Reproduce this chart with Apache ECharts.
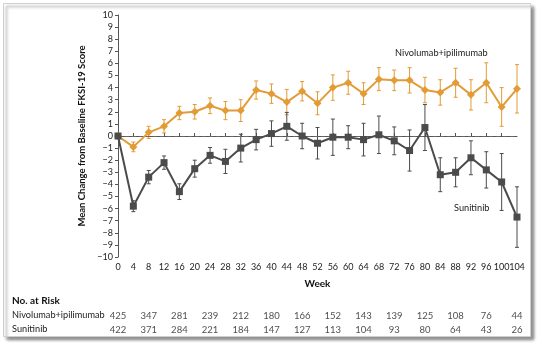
<!DOCTYPE html>
<html>
<head>
<meta charset="utf-8">
<script src="https://cdn.jsdelivr.net/npm/echarts@6/dist/echarts.min.js"></script>
<style>
  html, body { margin: 0; padding: 0; background: #fff; }
  #chart { width: 542px; height: 346px; }
</style>
</head>
<body>
<div id="chart"></div>
<script>
// Mean change from baseline in FKSI-19 score by study week
const weeks = [0, 4, 8, 12, 16, 20, 24, 28, 32, 36, 40, 44, 48, 52, 56, 60, 64, 68, 72, 76, 80, 84, 88, 92, 96, 100, 104];
const lastWeek = 104;

const nivoMean = [0, -0.9, 0.3, 0.8, 1.9, 2.0, 2.5, 2.1, 2.1, 3.8, 3.5, 2.8, 3.7, 2.7, 4.0, 4.4, 3.5, 4.7, 4.6, 4.6, 3.8, 3.6, 4.4, 3.4, 4.4, 2.4, 3.9];
const nivoErr  = [0, 0.4, 0.5, 0.55, 0.55, 0.6, 0.65, 0.75, 0.9, 0.75, 0.8, 1.05, 0.8, 0.95, 1.05, 0.95, 0.9, 0.95, 0.85, 1.05, 1.05, 1.05, 1.2, 1.25, 1.65, 1.6, 2.0];

const suniMean = [0, -5.8, -3.4, -2.2, -4.6, -2.7, -1.6, -2.1, -1.0, -0.3, 0.2, 0.8, 0.0, -0.6, -0.1, -0.1, -0.3, 0.1, -0.4, -1.2, 0.7, -3.2, -3.0, -1.8, -2.8, -3.8, -6.7];
const suniErr  = [0, 0.45, 0.55, 0.55, 0.65, 0.7, 0.65, 1.0, 1.15, 0.85, 1.05, 1.15, 1.05, 1.3, 1.5, 0.95, 1.35, 1.55, 1.15, 1.7, 1.9, 1.4, 1.2, 1.4, 1.5, 2.35, 2.5];

// Number of patients at risk, every 8 weeks
const riskWeeks = [0, 8, 16, 24, 32, 40, 48, 56, 64, 72, 80, 88, 96, 104];
const riskNivo = [425, 347, 281, 239, 212, 180, 166, 152, 143, 139, 125, 108, 76, 44];
const riskSuni = [422, 371, 284, 221, 184, 147, 127, 113, 104, 93, 80, 64, 43, 26];
const riskGroups = ['Nivolumab+ipilimumab', 'Sunitinib'];

const ORANGE = '#E39B35';
const GRAY = '#4B4B4B';
const FONT = 'Lato';

function errorData(mean, err) {
  return weeks.map((w, i) => [w, mean[i] - err[i], mean[i] + err[i]]).filter((d, i) => err[i] > 0);
}

function errorBars(color) {
  return function (params, api) {
    const x = api.value(0);
    const lo = api.coord([x, api.value(1)]);
    const hi = api.coord([x, api.value(2)]);
    const cap = 2;
    const style = { stroke: color, lineWidth: 1 };
    return {
      type: 'group',
      children: [
        { type: 'line', shape: { x1: lo[0], y1: lo[1], x2: hi[0], y2: hi[1] }, style },
        { type: 'line', shape: { x1: lo[0] - cap, y1: lo[1], x2: lo[0] + cap, y2: lo[1] }, style },
        { type: 'line', shape: { x1: hi[0] - cap, y1: hi[1], x2: hi[0] + cap, y2: hi[1] }, style }
      ]
    };
  };
}

const riskData = [];
riskWeeks.forEach((w, i) => {
  riskData.push([w, 0, riskNivo[i]]);
  riskData.push([w, 1, riskSuni[i]]);
});

const tickLabel = { fontFamily: FONT, fontSize: 9, color: '#222', margin: 6 };

const chart = echarts.init(document.getElementById('chart'), null, { renderer: 'canvas' });

chart.setOption({
  animation: false,
  backgroundColor: '#fff',
  textStyle: { fontFamily: FONT },
  graphic: [
    {
      type: 'rect', z: -10,
      shape: { x: 3.5, y: 3.5, width: 527, height: 333 },
      style: {
        fill: '#fff', stroke: '#cfcfcf', lineWidth: 1,
        shadowBlur: 3, shadowOffsetX: 3, shadowOffsetY: 3, shadowColor: 'rgba(0,0,0,0.45)'
      }
    },
    {
      type: 'text', left: 395, top: 49,
      style: { text: 'Nivolumab+ipilimumab', font: '9.2px Lato', fill: '#222' }
    },
    {
      type: 'text', left: 454, top: 204,
      style: { text: 'Sunitinib', font: '9.2px Lato', fill: '#222' }
    },
    {
      type: 'text', left: 12, top: 296,
      style: { text: 'No. at Risk', font: 'bold 10px Lato', fill: '#111' }
    },
    {
      type: 'text', left: 12, top: 311,
      style: { text: riskGroups[0], font: '9.2px Lato', fill: '#222' }
    },
    {
      type: 'text', left: 12, top: 325,
      style: { text: riskGroups[1], font: '9.2px Lato', fill: '#222' }
    }
  ],
  grid: [
    { left: 118, right: 25, top: 15, bottom: 89 },
    { left: 118, right: 25, top: 309, height: 28 }
  ],
  xAxis: [
    {
      type: 'value', gridIndex: 0, min: 0, max: lastWeek, interval: 4,
      name: 'Week', nameLocation: 'middle', nameGap: 22,
      nameTextStyle: { fontFamily: FONT, fontWeight: 'bold', fontSize: 10, color: '#111' },
      axisLine: { lineStyle: { color: '#555', width: 1 } },
      axisTick: { inside: true, length: 3, lineStyle: { color: '#555' } },
      axisLabel: Object.assign({ showMinLabel: true, showMaxLabel: false }, tickLabel),
      splitLine: { show: false }
    },
    {
      // carries only the final week label, which sits tight against "100"
      type: 'value', gridIndex: 0, position: 'bottom', min: 0, max: lastWeek,
      axisLine: { show: false }, axisTick: { show: false }, splitLine: { show: false },
      axisLabel: Object.assign({ customValues: [lastWeek] }, tickLabel)
    },
    {
      type: 'value', gridIndex: 1, min: 0, max: lastWeek, show: false
    }
  ],
  yAxis: [
    {
      type: 'value', gridIndex: 0, min: -10, max: 10, interval: 1,
      name: 'Mean Change from Baseline FKSI-19 Score', nameLocation: 'middle', nameGap: 29,
      nameTextStyle: { fontFamily: FONT, fontWeight: 'bold', fontSize: 9.5, color: '#111' },
      axisLine: { show: true, lineStyle: { color: '#555', width: 1 } },
      axisTick: { show: true, length: 3, lineStyle: { color: '#555' } },
      axisLabel: {
        fontFamily: FONT, fontSize: 9, color: '#222', margin: 5,
        formatter: v => (v < 0 ? '\u2212' + Math.abs(v) : String(v))
      },
      splitLine: { show: false }
    },
    {
      type: 'category', gridIndex: 1, data: riskGroups, inverse: true, show: false
    }
  ],
  series: [
    {
      type: 'line', xAxisIndex: 0, yAxisIndex: 0, data: [], silent: true,
      markLine: {
        symbol: 'none', silent: true, label: { show: false },
        lineStyle: { color: '#666', type: [4, 3], width: 1 },
        data: [{ yAxis: 0 }]
      },
      z: 1
    },
    {
      type: 'custom', renderItem: errorBars(ORANGE),
      data: errorData(nivoMean, nivoErr), encode: { x: 0, y: [1, 2] }, z: 2
    },
    {
      type: 'line', name: 'Nivolumab+ipilimumab',
      data: weeks.map((w, i) => [w, nivoMean[i]]),
      symbol: 'diamond', symbolSize: 8,
      lineStyle: { color: ORANGE, width: 2 },
      itemStyle: { color: ORANGE },
      z: 3
    },
    {
      type: 'custom', renderItem: errorBars(GRAY),
      data: errorData(suniMean, suniErr), encode: { x: 0, y: [1, 2] }, z: 4
    },
    {
      type: 'line', name: 'Sunitinib',
      data: weeks.map((w, i) => [w, suniMean[i]]),
      symbol: 'rect', symbolSize: 7,
      lineStyle: { color: GRAY, width: 2 },
      itemStyle: { color: GRAY },
      z: 5
    },
    {
      type: 'scatter', xAxisIndex: 2, yAxisIndex: 1,
      data: riskData, symbolSize: 0,
      label: {
        show: true, position: 'inside',
        formatter: p => String(p.value[2]),
        fontFamily: FONT, fontSize: 9.5, color: '#222'
      }
    }
  ]
});
</script>
</body>
</html>
